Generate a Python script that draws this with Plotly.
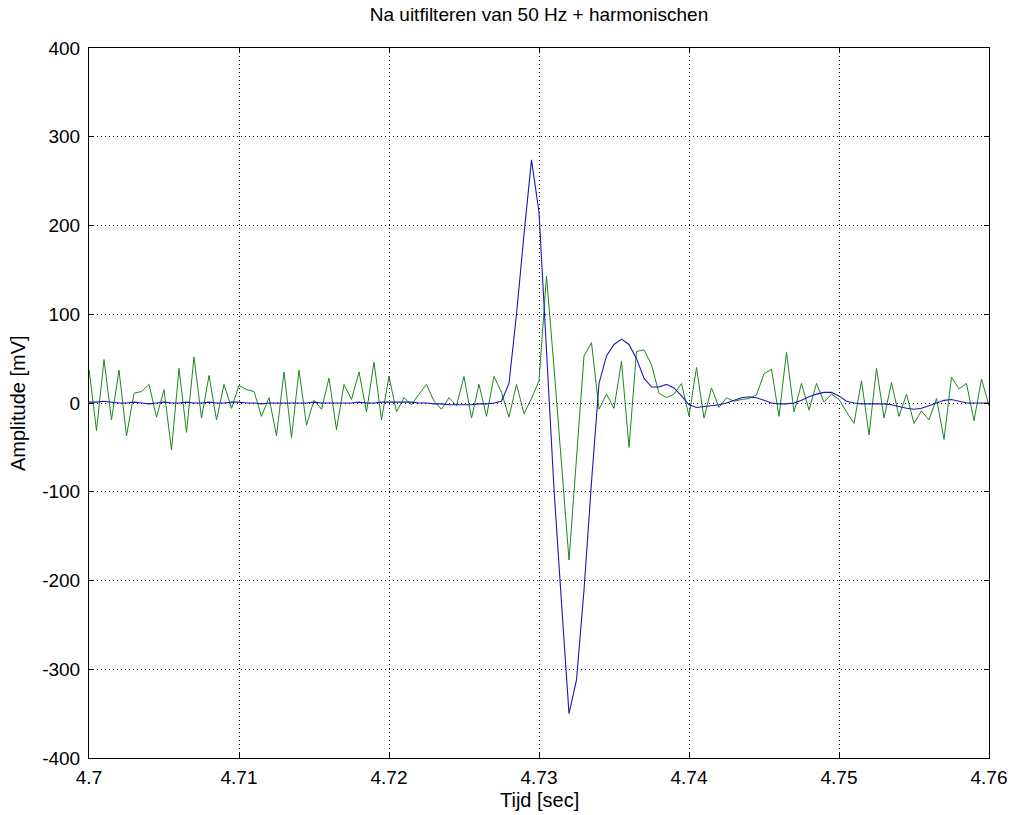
import plotly.graph_objects as go

# Sampling: 2000 Hz starting at 4.70 s
t_start = 4.7
t_step = 0.0005

# Raw signal after notch filtering (green)
green = [38, -31, 49, -19, 37, -37, 11, 13, 21, -16,
         15, -53, 39, -33, 52, -17, 31, -19, 21, -6,
         20, 15, 13, -15, 6, -37, 35, -39, 37, -25,
         3, -7, 28, -30, 21, 4, 35, -10, 46, -19,
         30, -10, 6, -2, 10, 21, 2, -7, 6, -3,
         30, -17, 21, -15, 30, 12, -16, 21, -12, 5,
         25, 143, 40, -68, -177, -62, 53, 68, -7, 10,
         -6, 47, -50, 58, 60, 43, 11, 6, 10, 22,
         -15, 40, -17, 17, -5, 6, 2, 4, 5, 9,
         33, 38, -15, 57, -10, 22, -8, 22, 1, 10,
         4, -10, -23, 25, -36, 39, -17, 23, -15, 10,
         -23, -9, -19, 5, -41, 29, 16, 22, -20, 27,
         -3]

# Smoothed signal (blue)
blue = [1, 1, 2, 1, 0, 0, 1, 0, -1, 0,
        1, 0, 0, 1, 0, 0, 1, 0, 0, 1,
        1, 0, 0, -1, 0, 0, 0, 0, 0, 0,
        1, 0, 0, 0, 0, 0, 1, 0, 0, 1,
        1, 1, 1, 1, 0, 0, -1, -1, -2, -2,
        -2, -2, -1, -1, 0, 2, 22, 100, 190, 274,
        215, 60, -97, -225, -350, -312, -211, -89, 22, 53,
        66, 72, 66, 50, 28, 18, 18, 21, 17, 8,
        -2, -5, -4, -3, -2, 0, 3, 6, 7, 6,
        3, 0, -1, -1, 0, 3, 7, 10, 12, 12,
        8, 2, 0, -1, -1, -1, -1, -2, -4, -6,
        -7, -6, -3, 0, 3, 4, 2, 0, 0, 0,
        0]

x_ticks = [4.70, 4.71, 4.72, 4.73, 4.74, 4.75, 4.76]
x_tick_text = ["4.7", "4.71", "4.72", "4.73", "4.74", "4.75", "4.76"]
y_ticks = [-400, -300, -200, -100, 0, 100, 200, 300, 400]
y_tick_text = ["-400", "-300", "-200", "-100", "0", "100", "200", "300", "400"]

title_text = "Na uitfilteren van 50 Hz + harmonischen"
x_label = "Tijd [sec]"
y_label = "Amplitude [mV]"

FONT = "Liberation Sans, Arial, sans-serif"
TICK_SIZE = 19
LABEL_SIZE = 20

fig = go.Figure()
fig.add_trace(go.Scatter(x0=t_start, dx=t_step, y=green, mode="lines",
                         line=dict(color="rgb(30,135,30)", width=1),
                         showlegend=False, hoverinfo="skip"))
fig.add_trace(go.Scatter(x0=t_start, dx=t_step, y=blue, mode="lines",
                         line=dict(color="rgb(25,25,180)", width=1.1),
                         showlegend=False, hoverinfo="skip"))

axis_common = dict(
    showline=True, linecolor="black", linewidth=1, mirror="ticks",
    ticks="inside", ticklen=5, tickcolor="black", automargin=False,
    showgrid=True, gridcolor="black", gridwidth=1, griddash="1px,3px",
    zeroline=False, tickfont=dict(family=FONT, size=TICK_SIZE, color="black"),
)

fig.update_xaxes(range=[4.7, 4.76], tickvals=x_ticks, ticktext=x_tick_text,
                 ticklabelstandoff=2, **axis_common)
fig.update_yaxes(range=[-400, 400], tickvals=y_ticks, ticktext=y_tick_text,
                 ticklabelstandoff=4, **axis_common)

fig.update_layout(
    width=1014, height=815, autosize=False,
    margin=dict(l=89, r=25, t=48, b=57, pad=0, autoexpand=False),
    paper_bgcolor="white", plot_bgcolor="white",
    font=dict(family=FONT, color="black"),
    title=dict(text=title_text, x=0.5, xref="paper", xanchor="center",
               y=1 - 14 / 815, yref="container", yanchor="middle",
               automargin=False,
               font=dict(family=FONT, size=TICK_SIZE, color="black")),
)
fig.add_annotation(text=x_label, xref="paper", x=0.5, yref="paper", y=0,
                   yshift=-42, yanchor="middle", showarrow=False,
                   font=dict(family=FONT, size=LABEL_SIZE, color="black"))
fig.add_annotation(text=y_label, xref="paper", x=0, xshift=-71, xanchor="center",
                   yref="paper", y=0.5, yanchor="middle", textangle=-90, showarrow=False,
                   font=dict(family=FONT, size=LABEL_SIZE, color="black"))

fig.write_html("out.html",
               config={"displayModeBar": False, "responsive": False},
               default_width="1014px", default_height="815px",
               post_script="document.body.style.margin='0';document.body.style.overflow='hidden';")
